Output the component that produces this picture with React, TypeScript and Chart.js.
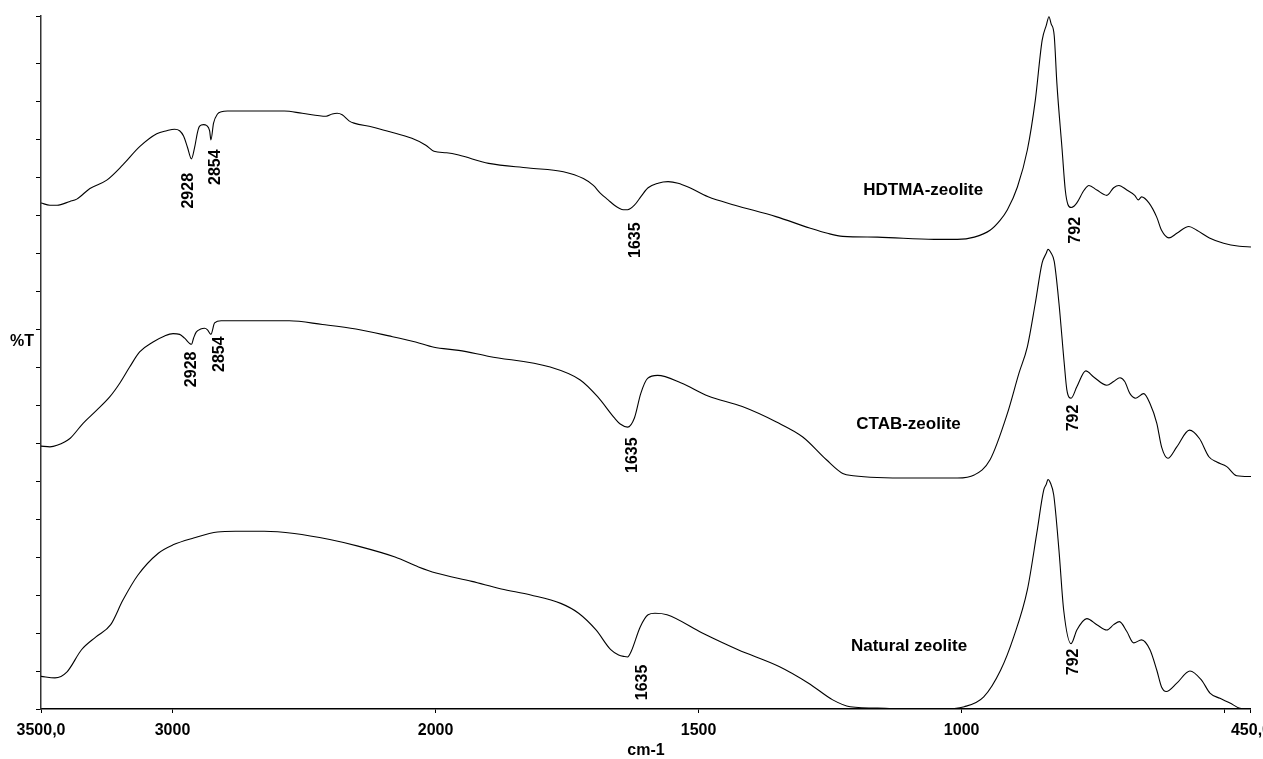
import { useEffect, useRef } from "react";
import { Chart, registerables } from "chart.js";

Chart.register(...registerables);

// The instrument plots 3500–2000 cm-1 at half the scale of 2000–450 cm-1,
// so wavenumbers are mapped onto a linear "display" axis before drawing.
const BREAK = 2000;
const toAxis = (wn: number) => (wn > BREAK ? BREAK + (wn - BREAK) / 2 : wn);

const xTickValues = [3500, 3000, 2000, 1500, 1000, 500, 450];
const xTickLabels = ["3500,0", "3000", "2000", "1500", "1000", "", "450,0"];
const yTickValues = [0, 5, 10, 15, 20, 25, 30, 35, 40, 45, 50, 55, 60, 65, 70, 75, 80, 85];
const Y_MAX = 91.2;

// HDTMA-zeolite (%T, offset)
const hdtmaWn = [
  3500, 3466, 3439, 3390, 3364, 3314, 3250, 3189, 3125, 3060, 3022, 2992, 2973, 2958, 2943, 2928,
  2916, 2905, 2897, 2882, 2871, 2859, 2854, 2844, 2829, 2814, 2791, 2575, 2507, 2416, 2393, 2374,
  2355, 2329, 2310, 2241, 2177, 2090, 2037, 2006, 1979, 1956, 1899, 1823, 1757, 1719, 1700, 1687,
  1672, 1660, 1651, 1643, 1635, 1622, 1609, 1596, 1577, 1558, 1539, 1520, 1482, 1431, 1353, 1289,
  1255, 1226, 1160, 1052, 1008, 976, 946, 927, 913, 894, 875, 860, 847, 839, 834, 830, 824, 819,
  809, 803, 798, 792, 786, 781, 767, 758, 743, 724, 711, 701, 686, 671, 664, 658, 644, 629, 620,
  606, 591, 568, 553, 529, 502, 472, 450,
];
const hdtmaT = [
  66.6, 66.3, 66.3, 66.8, 67.1, 68.5, 69.6, 71.6, 74.0, 75.7, 76.1, 76.3, 76.1, 75.4, 73.9, 72.4,
  73.9, 75.9, 76.7, 76.9, 76.8, 76.1, 74.9, 77.1, 78.3, 78.6, 78.7, 78.7, 78.4, 78.0, 78.3, 78.4,
  78.2, 77.4, 77.1, 76.6, 76.0, 75.1, 74.2, 73.4, 73.2, 72.9, 71.8, 71.2, 70.7, 69.8, 68.9, 67.9,
  67.0, 66.3, 65.9, 65.7, 65.7, 66.3, 67.5, 68.6, 69.2, 69.4, 69.2, 68.7, 67.4, 66.3, 64.8, 63.3,
  62.6, 62.2, 62.1, 61.8, 61.8, 62.1, 63.0, 64.3, 65.7, 68.7, 73.6, 80.1, 88.0, 90.0, 91.1, 90.2,
  88.6, 82.4, 73.6, 68.3, 66.4, 66.0, 66.2, 66.6, 68.3, 68.9, 68.3, 67.6, 68.6, 68.9, 68.3, 67.6,
  67.0, 67.4, 66.6, 64.7, 63.0, 62.0, 62.6, 63.5, 63.0, 62.0, 61.3, 60.9, 60.8,
];

// CTAB-zeolite
const ctabWn = [
  3500, 3466, 3439, 3390, 3340, 3289, 3238, 3200, 3163, 3125, 3074, 3030, 2998, 2973, 2954, 2928,
  2920, 2910, 2893, 2878, 2867, 2854, 2840, 2815, 2556, 2430, 2303, 2177, 2076, 2006, 1956, 1898,
  1782, 1725, 1692, 1660, 1649, 1635, 1622, 1610, 1597, 1578, 1533, 1482, 1417, 1353, 1302, 1257,
  1226, 1206, 1097, 1008, 976, 946, 913, 891, 875, 860, 847, 839, 836, 830, 824, 815, 805, 800,
  792, 781, 764, 749, 724, 711, 699, 690, 680, 669, 654, 642, 629, 620, 608, 591, 567, 548, 530,
  515, 496, 477, 450,
];
const ctabT = [
  34.6, 34.5, 34.7, 35.6, 37.6, 39.3, 41.1, 42.9, 45.0, 47.0, 48.3, 49.1, 49.4, 49.3, 48.8, 48.0,
  48.8, 49.6, 50.0, 50.1, 49.9, 49.3, 50.8, 51.1, 51.1, 50.6, 50.0, 49.1, 48.3, 47.6, 47.2, 46.4,
  45.0, 43.3, 41.1, 38.3, 37.5, 37.1, 38.3, 41.5, 43.5, 43.9, 42.9, 41.2, 39.8, 37.8, 35.8, 32.8,
  31.0, 30.7, 30.4, 30.4, 30.8, 32.8, 38.9, 44.2, 47.7, 53.4, 58.7, 60.0, 60.5, 60.0, 58.9, 53.4,
  45.5, 42.0, 40.9, 42.4, 44.5, 43.7, 42.6, 43.1, 43.6, 43.1, 41.5, 40.9, 41.5, 40.2, 37.6, 34.5,
  33.0, 34.5, 36.7, 35.6, 33.2, 32.5, 31.9, 30.7, 30.6,
];

// Natural zeolite
const naturalWn = [
  3500, 3447, 3401, 3346, 3291, 3235, 3189, 3132, 3054, 2998, 2920, 2829, 2761, 2651, 2537, 2402,
  2291, 2154, 2065, 1999, 1931, 1875, 1819, 1762, 1728, 1695, 1667, 1652, 1641, 1635, 1628, 1611,
  1596, 1583, 1560, 1493, 1425, 1347, 1291, 1245, 1212, 1145, 1100, 1040, 995, 958, 926, 901, 875,
  857, 844, 839, 836, 831, 825, 815, 806, 792, 781, 762, 743, 724, 711, 700, 686, 673, 658, 642,
  629, 620, 611, 591, 566, 544, 528, 509, 490, 471, 450,
];
const naturalT = [
  4.3, 4.1, 4.9, 7.8, 9.5, 11.1, 14.3, 17.6, 20.5, 21.6, 22.5, 23.3, 23.4, 23.4, 23.1, 22.3, 21.4,
  20.0, 18.7, 17.9, 16.8, 15.8, 15.0, 13.9, 12.6, 10.4, 7.8, 7.1, 6.9, 6.85, 7.6, 10.8, 12.4, 12.6,
  12.4, 10.0, 7.8, 5.6, 3.4, 1.2, 0.3, 0.1, 0, 0, 0.3, 1.6, 5.1, 9.5, 15.7, 23.2, 28.8, 29.6,
  30.2, 29.7, 28.2, 20.9, 13.0, 8.6, 10.4, 11.9, 11.1, 10.4, 11.1, 11.5, 10.2, 8.7, 9.1, 7.8, 5.1,
  2.9, 2.3, 3.4, 5.0, 3.8, 2.1, 1.4, 0.8, 0.1, 0,
];

const seriesLabels = ["HDTMA-zeolite", "CTAB-zeolite", "Natural zeolite"];
const seriesLabelWn = [1073, 1101, 1100];
const seriesLabelT = [68.3, 37.4, 8.2];

const peakLabelText = ["2928", "2854", "1635", "792", "2928", "2854", "1635", "792", "1635", "792"];
const peakLabelWn = [2939, 2838, 1619, 784, 2929, 2821, 1626, 787, 1607, 787];
const peakLabelT = [68.2, 71.3, 61.7, 63.0, 44.7, 46.7, 33.4, 38.3, 3.5, 6.2];

const Y_TITLE = "%T";
const Y_TITLE_T = 48.4;

const FONT_FAMILY = "'Liberation Sans', Arial, sans-serif";

const toPoints = (wn: number[], t: number[]) => wn.map((w, i) => ({ x: toAxis(w), y: t[i] }));

const labelPlugin = {
  id: "spectrumLabels",
  afterDatasetsDraw(chart: any) {
    const { ctx, scales } = chart;
    const x = scales.x;
    const y = scales.y;
    ctx.save();
    ctx.fillStyle = "#000";
    ctx.textAlign = "center";
    ctx.textBaseline = "middle";
    ctx.font = `bold 17px ${FONT_FAMILY}`;
    seriesLabels.forEach((s, i) => {
      ctx.fillText(s, x.getPixelForValue(toAxis(seriesLabelWn[i])), y.getPixelForValue(seriesLabelT[i]));
    });
    ctx.font = `bold 16px ${FONT_FAMILY}`;
    peakLabelText.forEach((s, i) => {
      ctx.save();
      ctx.translate(x.getPixelForValue(toAxis(peakLabelWn[i])), y.getPixelForValue(peakLabelT[i]));
      ctx.rotate(-Math.PI / 2);
      ctx.fillText(s, 0, 0);
      ctx.restore();
    });
    ctx.fillText(Y_TITLE, 22, y.getPixelForValue(Y_TITLE_T));
    ctx.restore();
  },
};

export default function App() {
  const canvasRef = useRef<HTMLCanvasElement | null>(null);

  useEffect(() => {
    const canvas = canvasRef.current;
    if (!canvas) return;
    Chart.defaults.font.family = FONT_FAMILY;
    const lineStyle = {
      borderColor: "#000",
      borderWidth: 1.1,
      pointRadius: 0,
      cubicInterpolationMode: "monotone" as const,
      fill: false,
    };
    const chart = new Chart(canvas, {
      type: "line",
      data: {
        datasets: [
          { label: seriesLabels[0], data: toPoints(hdtmaWn, hdtmaT), ...lineStyle },
          { label: seriesLabels[1], data: toPoints(ctabWn, ctabT), ...lineStyle },
          { label: seriesLabels[2], data: toPoints(naturalWn, naturalT), ...lineStyle },
        ],
      },
      options: {
        animation: false,
        responsive: false,
        devicePixelRatio: 1,
        parsing: false,
        layout: { padding: { left: 36, top: 16, right: 0, bottom: 0 } },
        plugins: { legend: { display: false }, tooltip: { enabled: false } },
        scales: {
          x: {
            type: "linear",
            reverse: true,
            min: toAxis(450),
            max: toAxis(3500),
            afterBuildTicks: (s: any) => {
              s.ticks = xTickValues.map((v) => ({ value: toAxis(v) }));
            },
            afterFit: (s: any) => {
              s.height = 50;
            },
            ticks: {
              autoSkip: false,
              maxRotation: 0,
              padding: 8,
              color: "#000",
              font: { size: 16, weight: "bold" },
              callback: (_v: any, index: number) => xTickLabels[index],
            },
            grid: { drawOnChartArea: false, drawTicks: true, tickLength: 4, color: "#000" },
            border: { display: true, color: "#000", width: 1.5 },
            title: {
              display: true,
              text: "cm-1",
              color: "#000",
              font: { size: 16, weight: "bold", lineHeight: 1 },
              padding: { top: 0, bottom: 0 },
            },
          },
          y: {
            type: "linear",
            min: 0,
            max: Y_MAX,
            afterBuildTicks: (s: any) => {
              s.ticks = [...yTickValues, Y_MAX].map((v) => ({ value: v }));
            },
            afterFit: (s: any) => {
              s.width = 5;
            },
            ticks: { display: false },
            grid: { drawOnChartArea: false, drawTicks: true, tickLength: 5, color: "#000" },
            border: { display: true, color: "#333", width: 1.5 },
          },
        },
      },
      plugins: [labelPlugin],
    } as any);
    return () => chart.destroy();
  }, []);

  return (
    <div
      style={{
        position: "fixed",
        left: 0,
        top: 0,
        width: 1263,
        height: 759,
        overflow: "hidden",
        background: "#fff",
      }}
    >
      <canvas ref={canvasRef} width={1279} height={759} style={{ display: "block" }} />
    </div>
  );
}
